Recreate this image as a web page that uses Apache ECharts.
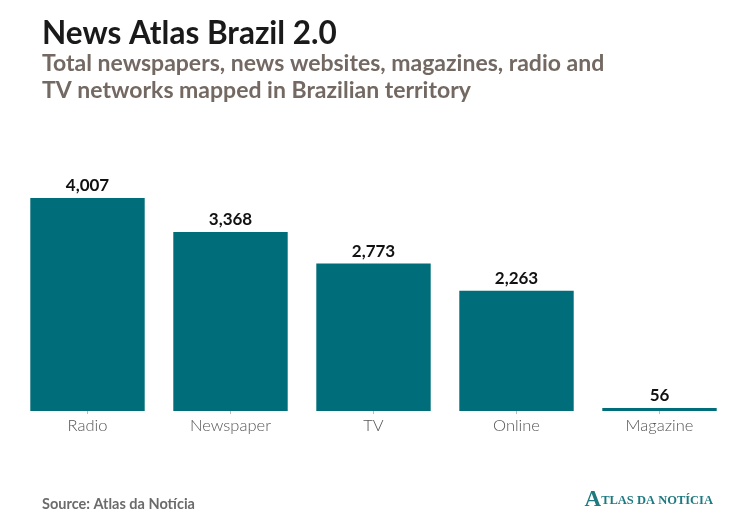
<!DOCTYPE html>
<html><head><meta charset="utf-8">
<script src="https://cdn.jsdelivr.net/npm/echarts@6/dist/echarts.min.js"></script>
<style>html,body{margin:0;padding:0;background:#fff}#c{width:750px;height:525px}</style>
</head><body><div id="c"></div>
<script>
const categories = ['Radio','Newspaper','TV','Online','Magazine'];
const values = [4007, 3368, 2773, 2263, 56];

const chart = echarts.init(document.getElementById('c'));
chart.setOption({
  backgroundColor:'#fff',
  animation:false,
  title:[
    {text:'News Atlas Brazil 2.0', left:37, top:13,
     textStyle:{fontFamily:'Lato', fontWeight:'bold', fontSize:31.5, color:'#1a1a1a'}},
    {text:'Total newspapers, news websites, magazines, radio and\nTV networks mapped in Brazilian territory', left:37, top:45,
     textStyle:{fontFamily:'Lato', fontWeight:'bold', fontSize:23, lineHeight:27, color:'#736962'}},
    {text:'Source: Atlas da Notícia', left:37, top:492,
     textStyle:{fontFamily:'Lato', fontWeight:'bold', fontSize:14.5, color:'#6b6b6b'}},
    {text:'{a|A}{b|TLAS DA NOTÍCIA}', right:32, top:484,
     textStyle:{rich:{
       a:{fontFamily:'Liberation Serif', fontWeight:'bold', fontSize:23, color:'#1e7a80'},
       b:{fontFamily:'Liberation Serif', fontWeight:'bold', fontSize:12.5, color:'#1e7a80'}}}}
  ],
  grid:{left:16, right:19, top:198, bottom:114, containLabel:false},
  xAxis:{type:'category', data:categories,
    axisLine:{show:false},
    axisTick:{show:true, alignWithLabel:true, length:3, lineStyle:{color:'#bbbbbb'}},
    axisLabel:{fontFamily:'Lato', fontWeight:300, fontSize:16.5, color:'#555', margin:6}},
  yAxis:{type:'value', min:0, max:4007, show:false, splitLine:{show:false}},
  series:[{type:'bar', data:values, barCategoryGap:'20%',
    itemStyle:{color:'#006d7a'},
    label:{show:true, position:'top', distance:4, fontFamily:'Lato', fontWeight:'bold', fontSize:17, color:'#111',
      formatter:p=>p.value.toLocaleString('en-US')}}]
});
</script></body></html>
